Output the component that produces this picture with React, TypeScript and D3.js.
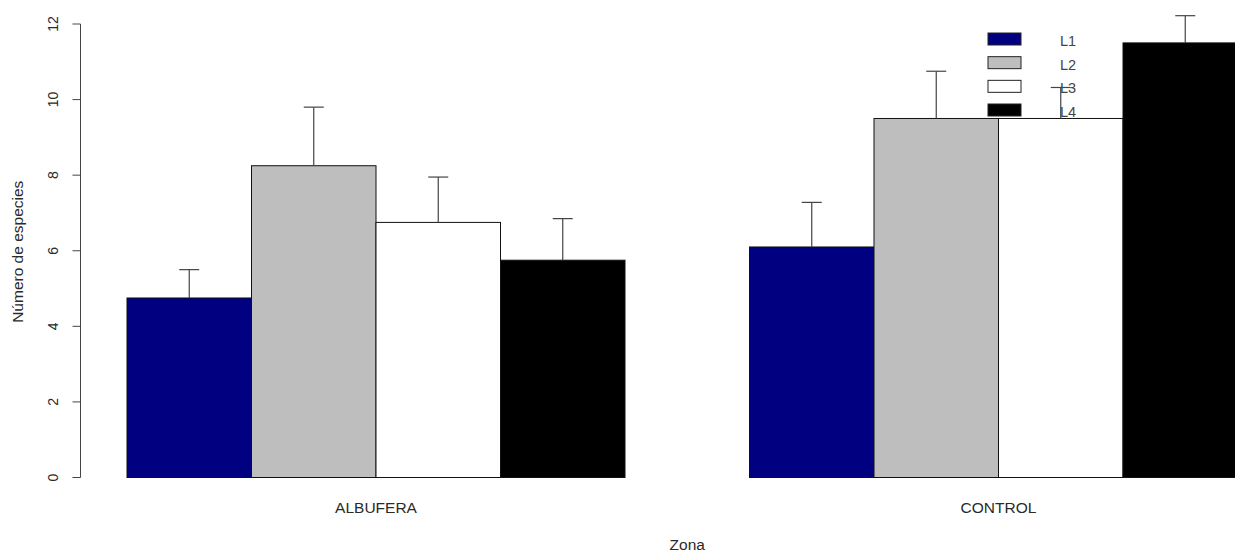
import React from "react";
import * as d3 from "d3";

// Species counts per zone and line (L1–L4), with error-bar tops
const zones = ["ALBUFERA", "CONTROL"];
const lines = ["L1", "L2", "L3", "L4"];
const meanAlbufera = [4.75, 8.25, 6.75, 5.75];
const meanControl = [6.1, 9.5, 9.5, 11.5];
const upperAlbufera = [5.5, 9.8, 7.95, 6.85];
const upperControl = [7.28, 10.75, 10.32, 12.22];
const lineColors = ["#000080", "#bebebe", "#ffffff", "#000000"];
const yTicks = [0, 2, 4, 6, 8, 10, 12];

const W = 1235;
const H = 552;
const FONT = "'Liberation Sans', Arial, Helvetica, sans-serif";
const TEXT = "#2a2a2a";

export default function App() {
  const means = [meanAlbufera, meanControl];
  const uppers = [upperAlbufera, upperControl];

  // Bar units: each bar is one unit wide, groups separated by one unit
  const x = d3.scaleLinear().domain([1, 10]).range([127, 1247.5]);
  const y = d3.scaleLinear().domain([0, 12]).range([477.5, 24]);
  const barLeft = (g: number, i: number) => 1 + g * (lines.length + 1) + i;

  const bars = zones.flatMap((z, g) =>
    lines.map((l, i) => {
      const u = barLeft(g, i);
      return {
        key: `${z}-${l}`,
        x0: x(u),
        x1: x(u + 1),
        cx: x(u + 0.5),
        v: means[g][i],
        up: uppers[g][i],
        fill: lineColors[i],
      };
    })
  );

  const axisX = 80.5;
  const legendY = d3.scalePoint().domain(lines).range([40, 111]);

  return (
    <svg
      width={W}
      height={H}
      style={{ position: "absolute", left: 0, top: 0, background: "#fff" }}
      fontFamily={FONT}
    >
      {/* bars */}
      {bars.map((b) => (
        <rect
          key={b.key}
          x={b.x0}
          y={y(b.v)}
          width={b.x1 - b.x0}
          height={y(0) - y(b.v)}
          fill={b.fill}
          stroke="#111"
          strokeWidth={1}
        />
      ))}

      {/* error bars */}
      {bars.map((b) => (
        <g key={`e-${b.key}`} stroke="#444" strokeWidth={1.2}>
          <line x1={b.cx} x2={b.cx} y1={y(b.v)} y2={y(b.up)} />
          <line x1={b.cx - 10} x2={b.cx + 10} y1={y(b.up)} y2={y(b.up)} />
        </g>
      ))}

      {/* y axis */}
      <g stroke="#444" strokeWidth={1}>
        <line x1={axisX} x2={axisX} y1={y(12)} y2={y(0)} />
        {yTicks.map((t) => (
          <line key={t} x1={axisX - 8} x2={axisX} y1={y(t)} y2={y(t)} />
        ))}
      </g>
      {yTicks.map((t) => (
        <text
          key={`t${t}`}
          transform={`translate(58,${y(t)}) rotate(-90)`}
          textAnchor="middle"
          fontSize={14}
          fill={TEXT}
        >
          {t}
        </text>
      ))}
      <text
        transform={`translate(23,${(y(0) + y(12)) / 2 + 1}) rotate(-90)`}
        textAnchor="middle"
        fontSize={15.5}
        fill={TEXT}
      >
        Número de especies
      </text>

      {/* zone labels */}
      {zones.map((z, g) => (
        <text
          key={z}
          x={x(barLeft(g, 0) + lines.length / 2)}
          y={513}
          textAnchor="middle"
          fontSize={15.5}
          fill={TEXT}
        >
          {z}
        </text>
      ))}
      <text x={x(5.5)} y={550} textAnchor="middle" fontSize={15.5} fill={TEXT}>
        Zona
      </text>

      {/* legend */}
      {lines.map((l, i) => (
        <g key={`lg-${l}`}>
          <rect
            x={988}
            y={legendY(l)! - 7}
            width={33}
            height={12}
            fill={lineColors[i]}
            stroke="#222"
            strokeWidth={1}
          />
          <text
            x={1060}
            y={legendY(l)! + 6}
            fontSize={14.5}
            fill="#444"
          >
            {l}
          </text>
        </g>
      ))}
    </svg>
  );
}
